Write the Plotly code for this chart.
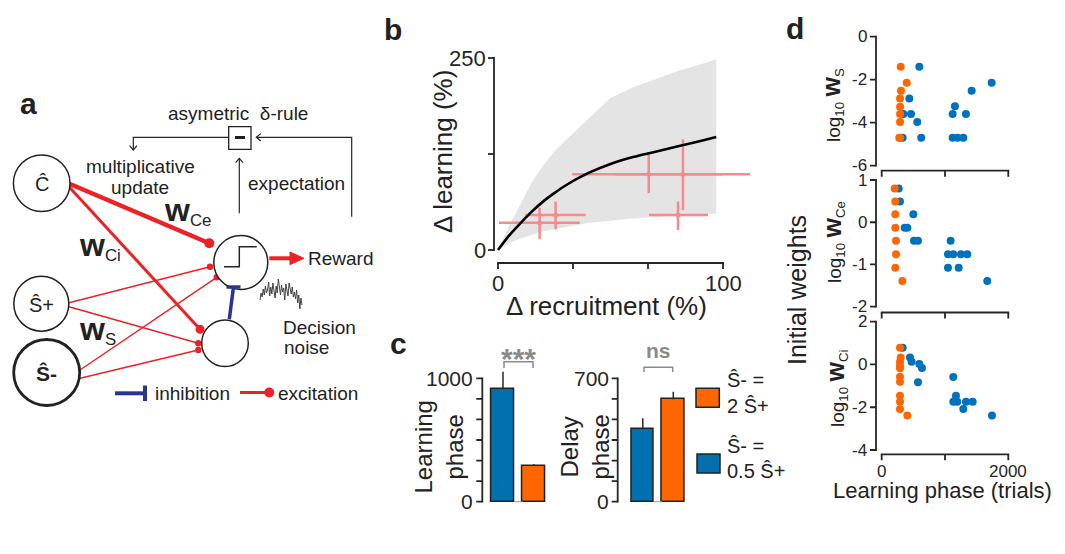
import numpy as np
import plotly.graph_objects as go

W, H = 1065, 554
FONT = "Arial, 'Liberation Sans', Helvetica, sans-serif"
INK = "#222222"
AXIS = "#262626"
RED = "#ec2227"
NAVY = "#2b3590"
PINK = "#f78a8a"
BAND = "#e4e4e4"
BLUE = "#0072bd"
BLUE_BAR = "#0070ae"
ORANGE = "#ff6600"
GRAY = "#8a8a8a"

# ---------------- panel b: learning gain vs recruitment gain ----------------
recruit_curve = [0, 5, 10, 15, 20, 25, 30, 40, 50, 60, 70, 80, 90, 97]
learning_curve = [0, 19, 35, 50, 63, 74, 84, 100, 112, 121, 128, 135, 142, 147]
band_upper = [0, 32, 60, 88, 110, 128, 143, 170, 198, 212, 223, 233, 242, 248]
band_lower = [0, 9, 15, 20, 24, 27, 30, 35, 38, 41, 43, 45, 46.5, 47.5]

obs_recruit = [18.5, 25.6, 67.0, 82.2, 80.0]
obs_learning = [35.5, 45.7, 98.7, 98.7, 45.7]
obs_recruit_lo = [0.4, 12.1, 33.0, 52.0, 67.1]
obs_recruit_hi = [36.3, 39.0, 100.0, 112.0, 93.3]
obs_learning_lo = [14.5, 27.0, 74.0, 52.0, 26.0]
obs_learning_hi = [55.0, 63.0, 124.0, 144.0, 63.0]

b_xticks = [0, 100 / 3, 200 / 3, 100]
b_xlabels = ["0", "", "", "100"]
b_yticks = [0, 125, 250]
b_ylabels = ["0", "", "250"]

# ---------------- panel c: phase durations per condition ----------------
conditions = ["Ŝ- = 0.5 Ŝ+", "Ŝ- = 2 Ŝ+"]
cond_colors = [BLUE_BAR, ORANGE]
learning_phase = [914, 290]
learning_phase_err = [140, 13]
delay_phase = [414, 581]
delay_phase_err = [59, 43]

c1_yticks = [i * 1000 / 6 for i in range(7)]
c1_ylabels = ["0", "", "", "", "", "", "1000"]
c2_yticks = [i * 700 / 6 for i in range(7)]
c2_ylabels = ["0", "", "", "", "", "", "700"]

# ---------------- panel d: initial weights vs learning phase ----------------
ws_blue_x = [594, 436, 342, 463, 562, 331, 625, 1157, 1121, 1331, 1121, 1200, 1289, 1421, 1737]
ws_blue_y = [-1.40, -2.88, -3.60, -3.60, -3.97, -4.70, -4.70, -3.24, -3.60, -3.60, -4.70, -4.70, -4.70, -2.51, -2.14]
ws_orange_x = [300, 395, 305, 290, 290, 290, 290, 278, 290]
ws_orange_y = [-1.40, -2.14, -2.51, -2.88, -3.26, -3.60, -3.97, -4.70, -4.70]

ce_blue_x = [268, 289, 500, 363, 405, 510, 573, 1089, 1047, 1131, 1252, 1352, 1047, 1216, 1668]
ce_blue_y = [0.80, 0.49, 0.19, -0.13, -0.13, -0.44, -0.44, -0.44, -0.76, -0.76, -0.76, -0.76, -1.08, -1.08, -1.39]
ce_orange_x = [205, 215, 215, 215, 226, 226, 215, 326]
ce_orange_y = [0.80, 0.49, 0.19, -0.13, -0.44, -0.76, -1.08, -1.39]

ci_blue_x = [331, 447, 473, 594, 636, 573, 1131, 1173, 1131, 1194, 1331, 1437, 1289, 1742]
ci_blue_y = [0.78, 0.33, 0.13, 0.02, -0.17, -0.83, -0.59, -1.46, -1.74, -1.74, -1.74, -1.74, -2.08, -2.39]
ci_orange_x = [289, 300, 289, 289, 289, 289, 289, 289, 289, 289, 405]
ci_orange_y = [0.78, 0.33, 0.13, -0.05, -0.18, -0.57, -0.81, -1.46, -1.74, -2.08, -2.39]

d_xticks = [0, 1000, 2000]
d_xlabels = ["0", "", "2000"]
ws_yticks, ws_ylabels = [0, -2, -4, -6], ["0", "-2", "-4", "-6"]
ce_yticks, ce_ylabels = [1, 0, -1, -2], ["1", "0", "-1", "-2"]
ci_yticks, ci_ylabels = [2, 0, -2, -4], ["2", "0", "-2", "-4"]

# decision-noise trace drawn beside the decision unit (pixel units)
noise_trace = [300, 293, 297, 289, 295, 286, 293, 290, 282, 296, 287, 294, 283, 291, 298, 286,
               293, 279, 290, 295, 285, 292, 288, 300, 284, 291, 296, 283, 289, 294, 287, 297,
               292, 299, 290, 303, 295, 309, 298, 305]

shapes = []
annotations = []
layout_axes = {}
frame_traces = []
TICK = 6
PAD = 10      # plot rectangles reach past the detached axes so the frames sit inside them


def txt(x, y, s, size=19, xanchor="center", angle=0, color=INK):
    annotations.append(dict(x=x, y=y, xref="x7", yref="y7", text=s, showarrow=False,
                            xanchor=xanchor, yanchor="middle", textangle=angle,
                            font=dict(family=FONT, size=size, color=color)))


def px_line(x0, y0, x1, y1, color=AXIS, width=1.2):
    shapes.append(dict(type="line", xref="x7", yref="y7", x0=x0, y0=y0, x1=x1, y1=y1,
                       line=dict(color=color, width=width)))


def px_path(path, color=AXIS, width=1.2, fill=None):
    d = dict(type="path", xref="x7", yref="y7", path=path, line=dict(color=color, width=width))
    if fill:
        d["fillcolor"] = fill
    shapes.append(d)


def px_circle(cx, cy, r, color=INK, width=1.5, fill="white"):
    shapes.append(dict(type="circle", xref="x7", yref="y7", x0=cx - r, x1=cx + r,
                       y0=cy - r, y1=cy + r, line=dict(color=color, width=width),
                       fillcolor=fill))


def lin(v0, p0, v1, p1):
    s = (p1 - p0) / (v1 - v0)
    return lambda v: p0 + (v - v0) * s


def inv(f, p):
    a, b = f(0.0), f(1.0)
    return (p - a) / (b - a)


def hidden_axis(domain, rng, anchor):
    return dict(domain=domain, range=rng, anchor=anchor, visible=False,
                automargin=False, fixedrange=True)


def panel(n, left, right, bottom, top, fx, fy, xaxis=None, yaxis=None,
          size=17, xlab_edge=None, ylab_edge=None):
    """Subplot n placed in pixels; its detached axes are line traces inside the subplot."""
    xs = "" if n == 1 else str(n)
    l_out, b_out = left - PAD, bottom + PAD
    layout_axes[f"xaxis{xs}"] = hidden_axis([l_out / W, right / W],
                                            [inv(fx, l_out), inv(fx, right)], f"y{xs}")
    layout_axes[f"yaxis{xs}"] = hidden_axis([1 - b_out / H, 1 - top / H],
                                            [inv(fy, b_out), inv(fy, top)], f"x{xs}")
    gx, gy = [], []

    def seg(px0, py0, px1, py1):
        gx.extend([inv(fx, px0), inv(fx, px1), None])
        gy.extend([inv(fy, py0), inv(fy, py1), None])

    if xaxis:
        vals, labels = xaxis
        seg(fx(min(vals)) - 0.9, bottom, fx(max(vals)) + 0.9, bottom)
        for v, lab in zip(vals, labels):
            seg(fx(v), bottom, fx(v), bottom + TICK)
            if lab:
                txt(fx(v), xlab_edge, lab, size, color=AXIS)
    if yaxis:
        vals, labels = yaxis
        seg(left, fy(min(vals)) + 0.9, left, fy(max(vals)) - 0.9)
        for v, lab in zip(vals, labels):
            seg(left, fy(v), left - TICK, fy(v))
            if lab:
                txt(ylab_edge, fy(v), lab, size, xanchor="right", color=AXIS)
    frame_traces.append(go.Scatter(x=gx, y=gy, mode="lines", line=dict(color=AXIS, width=1.8),
                                   xaxis=f"x{xs}", yaxis=f"y{xs}", hoverinfo="skip"))


# panel b
fxb, fyb = lin(0, 498, 100, 723), lin(0, 250, 250, 58)
panel(1, 494, 760, 263, 50, fxb, fyb, (b_xticks, b_xlabels), (b_yticks, b_ylabels),
      22, xlab_edge=283.5, ylab_edge=487.5)
# panel c
fxc1, fyc1 = lin(1, 503, 2, 533.9), lin(0, 501.7, 1000, 378.3)
panel(2, 482.3, 552, 501.7, 360, fxc1, fyc1, None, (c1_yticks, c1_ylabels),
      21, ylab_edge=475)
fxc2, fyc2 = lin(1, 642.8, 2, 673.3), lin(0, 501.7, 700, 378.3)
panel(3, 617.7, 690, 501.7, 360, fxc2, fyc2, None, (c2_yticks, c2_ylabels),
      21, ylab_edge=610.5)
# panel d
fxd = lin(0, 881.7, 2000, 1008.3)
panel(4, 876, 1012, 170.7, 30, fxd, lin(-6, 165.7, 0, 36.7),
      (d_xticks, ["", "", ""]), (ws_yticks, ws_ylabels), 17, ylab_edge=869)
panel(5, 876, 1012, 312.5, 175, fxd, lin(-2, 306.7, 1, 180),
      (d_xticks, ["", "", ""]), (ce_yticks, ce_ylabels), 17, ylab_edge=869)
panel(6, 876, 1012, 454.3, 316, fxd, lin(-4, 450, 2, 321.7),
      (d_xticks, d_xlabels), (ci_yticks, ci_ylabels), 17, xlab_edge=471.5, ylab_edge=869)
# pixel-unit overlay for the diagram, brackets, legend and text
layout_axes["xaxis7"] = hidden_axis([0, 1], [0, W], "y7")
layout_axes["yaxis7"] = hidden_axis([0, 1], [H, 0], "x7")

fig = go.Figure()

# ---- panel b traces ----
fig.add_trace(go.Scatter(x=recruit_curve, y=band_lower, mode="lines", line=dict(width=0),
                         xaxis="x", yaxis="y", hoverinfo="skip"))
fig.add_trace(go.Scatter(x=recruit_curve, y=band_upper, mode="lines", line=dict(width=0),
                         fill="tonexty", fillcolor=BAND, xaxis="x", yaxis="y", hoverinfo="skip"))
fig.add_trace(go.Scatter(
    x=obs_recruit, y=obs_learning, mode="markers", marker=dict(size=5, color=PINK),
    error_x=dict(type="data", symmetric=False,
                 array=[h - v for h, v in zip(obs_recruit_hi, obs_recruit)],
                 arrayminus=[v - l for l, v in zip(obs_recruit_lo, obs_recruit)],
                 width=0, thickness=2.5, color=PINK),
    error_y=dict(type="data", symmetric=False,
                 array=[h - v for h, v in zip(obs_learning_hi, obs_learning)],
                 arrayminus=[v - l for l, v in zip(obs_learning_lo, obs_learning)],
                 width=0, thickness=2.5, color=PINK),
    xaxis="x", yaxis="y"))
fig.add_trace(go.Scatter(x=recruit_curve, y=learning_curve, mode="lines",
                         line=dict(color="black", width=2.6, shape="spline"),
                         xaxis="x", yaxis="y"))

# ---- panel c traces ----
for vals, errs, xa, ya in [(learning_phase, learning_phase_err, "x2", "y2"),
                           (delay_phase, delay_phase_err, "x3", "y3")]:
    fig.add_trace(go.Bar(
        x=[1, 2], y=vals, width=0.73, base=0,
        marker=dict(color=cond_colors, line=dict(color=INK, width=1.5)),
        error_y=dict(type="data", symmetric=False, array=errs, arrayminus=[0, 0],
                     width=0, thickness=1.5, color=AXIS),
        xaxis=xa, yaxis=ya))
for fxc, fyc in [(fxc1, fyc1), (fxc2, fyc2)]:
    px_line(fxc(1.37), fyc(0), fxc(1.63), fyc(0), "#9a9a9a", 1)

# ---- panel d traces ----
for bx, by, ox, oy, xa, ya in [(ws_blue_x, ws_blue_y, ws_orange_x, ws_orange_y, "x4", "y4"),
                               (ce_blue_x, ce_blue_y, ce_orange_x, ce_orange_y, "x5", "y5"),
                               (ci_blue_x, ci_blue_y, ci_orange_x, ci_orange_y, "x6", "y6")]:
    fig.add_trace(go.Scatter(x=bx, y=by, mode="markers", marker=dict(size=8, color=BLUE),
                             cliponaxis=False, xaxis=xa, yaxis=ya))
    fig.add_trace(go.Scatter(x=ox, y=oy, mode="markers", marker=dict(size=8, color=ORANGE),
                             cliponaxis=False, xaxis=xa, yaxis=ya))

# ---- detached axis frames, one line trace per subplot ----
for tr in frame_traces:
    fig.add_trace(tr)

# ---- decision-noise squiggle on the pixel overlay ----
fig.add_trace(go.Scatter(x=list(np.linspace(260, 302, len(noise_trace))), y=noise_trace,
                         mode="lines", line=dict(color="#444444", width=1),
                         xaxis="x7", yaxis="y7", hoverinfo="skip"))

# ---- panel a network diagram (pixel units) ----
nodes = {
    "C": (41.7, 183.3, 28.3, 1.5),
    "S+": (41.3, 303.7, 27.5, 1.5),
    "S-": (46.7, 372.5, 33.0, 2.8),
    "decision": (240.8, 262.5, 27.0, 1.5),
    "inhibitory": (225.0, 343.3, 23.3, 1.5),
}
connections = [  # x0, y0, x1, y1, width, end dot radius
    (68.3, 183.3, 209.3, 243.3, 4.5, 5.0),
    (68.3, 186.0, 200.0, 329.3, 3.0, 4.5),
    (69.0, 302.7, 210.0, 266.7, 1.5, 3.2),
    (69.0, 306.7, 198.3, 343.3, 1.5, 3.2),
    (80.0, 370.0, 216.7, 277.3, 1.5, 3.2),
    (80.0, 378.3, 198.3, 350.0, 1.5, 3.2),
]
for x0, y0, x1, y1, w, r in connections:
    px_line(x0, y0, x1, y1, RED, w)
for x0, y0, x1, y1, w, r in connections:
    px_circle(x1, y1, r, RED, 0, RED)
for cx, cy, r, w in nodes.values():
    px_circle(cx, cy, r, INK, w)

# step nonlinearity inside the decision unit
px_path("M 224 266.7 L 239.3 266.7 L 239.3 246.7 L 256.7 246.7", INK, 1.5)
# inhibitory projection
px_line(229.3, 319.3, 233.3, 288.3, NAVY, 3.5)
px_line(226.5, 287.0, 240.5, 287.0, NAVY, 3.5)
# reward output
px_line(269.3, 258.3, 292, 258.3, RED, 4)
px_path("M 290 252 L 304 258.3 L 290 264.6 Z", RED, 1, RED)
# delta-rule box and feedback loop
shapes.append(dict(type="rect", xref="x7", yref="y7", x0=228.7, x1=251, y0=126.7, y1=149.3,
                   line=dict(color=INK, width=1.3), fillcolor="white"))
px_line(235, 137.5, 245, 137.5, INK, 3)
px_path("M 228.7 137.3 L 133.3 137.3 L 133.3 150")
px_path("M 129.6 145.6 L 133.3 150 L 137 145.6")
px_path("M 351.7 216.7 L 351.7 137.3 L 256.5 137.3")
px_path("M 260.8 133.6 L 256.3 137.3 L 260.8 141")
px_path("M 239.3 213.3 L 239.3 158.3")
px_path("M 235.6 162.6 L 239.3 158.3 L 243 162.6")
# legend for connection types
px_line(115, 393.3, 145, 393.3, NAVY, 4)
px_line(145, 385.5, 145, 401, NAVY, 4)
px_line(240, 392.5, 266, 392.5, RED, 3)
px_circle(269.3, 392.5, 5, RED, 0, RED)

# ---- panel c significance brackets and legend ----
px_path("M 504 368 L 504 361.7 L 533 361.7 L 533 368", GRAY, 1.5)
px_path("M 644 372 L 644 367.3 L 672.7 367.3 L 672.7 372", GRAY, 1.5)
shapes.append(dict(type="rect", xref="x7", yref="y7", x0=696, x1=719.3, y0=388.3, y1=407.3,
                   line=dict(color=INK, width=1.5), fillcolor=ORANGE))
shapes.append(dict(type="rect", xref="x7", yref="y7", x0=697, x1=720, y0=454, y1=473,
                   line=dict(color=INK, width=1.5), fillcolor=BLUE_BAR))

# ---------------- text ----------------
# panel letters
txt(28, 103, "<b>a</b>", 30)
txt(393, 29, "<b>b</b>", 30)
txt(398, 343, "<b>c</b>", 30)
txt(795, 28, "<b>d</b>", 30)

# panel a labels
txt(238, 113, "asymetric\u00a0\u00a0δ-rule")
txt(140, 166, "multiplicative")
txt(140, 187, "update")
txt(246, 183, "expectation", xanchor="left")
txt(306, 258.3, "Reward", xanchor="left")
txt(280.5, 327, "Decision", xanchor="left")
txt(281.5, 347, "noise", xanchor="left")
txt(153, 393, "inhibition", xanchor="left")
txt(276, 393, "excitation", xanchor="left")
txt(41.7, 184, "Ĉ", 20)
txt(41.3, 304.5, "Ŝ+", 20)
txt(46.7, 373.5, "<b>Ŝ-</b>", 21)
wlab = "<span style='font-size:32px'><b>w</b></span><sub>{}</sub>"
txt(187, 211, wlab.format("Ce"), 24)
txt(100, 246, wlab.format("Ci"), 24)
txt(97, 330, wlab.format("S"), 24)

# panel b axis titles
txt(443, 152, "Δ learning (%)", 26, angle=-90)
txt(606, 306, "Δ recruitment (%)", 26)

# panel c labels
txt(438.5, 447, "Learning<br>phase", 24, angle=-90)
txt(584.5, 447, "Delay<br>phase", 24, angle=-90)
txt(518.5, 358, "<b>***</b>", 30, color=GRAY)
txt(658.5, 350, "<b>ns</b>", 21, color=GRAY)
txt(725, 380, "Ŝ- =", 20, xanchor="left")
txt(725, 406, "2 Ŝ+", 20, xanchor="left")
txt(725, 446, "Ŝ- =", 20, xanchor="left")
txt(725, 471, "0.5 Ŝ+", 20, xanchor="left")

# panel d labels
txt(797, 290, "Initial weights", 25, angle=-90)
dlab = "log<sub>10</sub> <span style='font-size:25px'><b>w</b></span><sub>{}</sub>"
txt(832, 105, dlab.format("S"), 19, angle=-90)
txt(833, 242, dlab.format("Ce"), 19, angle=-90)
txt(836, 389, dlab.format("Ci"), 19, angle=-90)
txt(942, 490, "Learning phase (trials)", 22)

fig.update_layout(
    template="none", autosize=False,
    width=W, height=H, margin=dict(l=0, r=0, t=0, b=0, pad=0),
    paper_bgcolor="white", plot_bgcolor="rgba(0,0,0,0)",
    showlegend=False, hovermode=False, bargap=0,
    font=dict(family=FONT, color=INK),
    shapes=shapes, annotations=annotations,
    **layout_axes,
)

fig.write_html("out.html")
